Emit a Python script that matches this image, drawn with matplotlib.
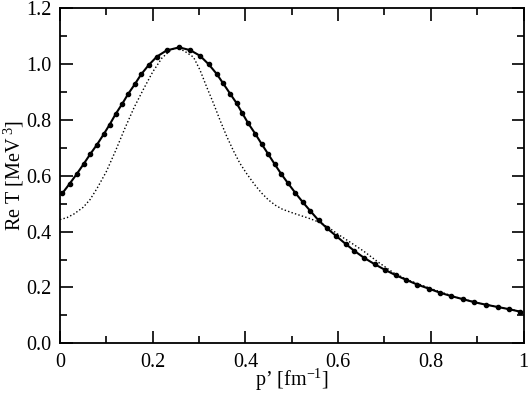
import matplotlib
matplotlib.use("Agg")
import matplotlib.pyplot as plt
from matplotlib.ticker import MultipleLocator, FixedLocator

plt.rcParams['font.family'] = 'Liberation Serif'
plt.rcParams['mathtext.fontset'] = 'custom'
plt.rcParams['mathtext.rm'] = 'Liberation Serif'
plt.rcParams['mathtext.it'] = 'Liberation Serif:italic'

# solid curve with dots
p_solid = [0.005, 0.021, 0.036, 0.051, 0.065, 0.080, 0.094, 0.107, 0.120, 0.134,
           0.147, 0.161, 0.175, 0.191, 0.209, 0.230, 0.257, 0.281, 0.302, 0.321,
           0.338, 0.352, 0.367, 0.381, 0.393, 0.406, 0.421, 0.435, 0.449, 0.463,
           0.477, 0.492, 0.508, 0.524, 0.540, 0.558, 0.576, 0.596, 0.616, 0.635,
           0.656, 0.679, 0.701, 0.724, 0.747, 0.771, 0.795, 0.820, 0.844, 0.869,
           0.894, 0.919, 0.944, 0.969, 0.993]
t_solid = [0.537, 0.572, 0.606, 0.642, 0.677, 0.712, 0.748, 0.783, 0.821, 0.857,
           0.893, 0.927, 0.963, 0.996, 1.027, 1.049, 1.060, 1.050, 1.030, 0.999,
           0.965, 0.931, 0.894, 0.860, 0.825, 0.788, 0.751, 0.714, 0.678, 0.642,
           0.607, 0.573, 0.538, 0.505, 0.474, 0.440, 0.412, 0.384, 0.356, 0.331,
           0.306, 0.283, 0.263, 0.244, 0.227, 0.210, 0.196, 0.181, 0.169, 0.158,
           0.147, 0.138, 0.130, 0.122, 0.113]

# dotted curve
p_dot = [0.0, 0.015, 0.03, 0.05, 0.065, 0.08, 0.10, 0.12, 0.14, 0.16, 0.18, 0.20,
         0.22, 0.24, 0.255, 0.27, 0.288, 0.302, 0.316, 0.331, 0.345, 0.36, 0.374,
         0.388, 0.403, 0.42, 0.435, 0.45, 0.465, 0.48, 0.50, 0.52, 0.54, 0.56,
         0.58, 0.60, 0.626, 0.655, 0.687, 0.72, 0.75, 0.80, 0.85, 0.90, 0.95, 1.0]
t_dot = [0.443, 0.450, 0.463, 0.487, 0.515, 0.555, 0.615, 0.690, 0.770, 0.845,
         0.910, 0.972, 1.022, 1.052, 1.058, 1.045, 1.025, 0.979, 0.920, 0.860,
         0.800, 0.740, 0.690, 0.645, 0.607, 0.568, 0.538, 0.513, 0.494, 0.480,
         0.468, 0.457, 0.446, 0.433, 0.414, 0.390, 0.362, 0.330, 0.290, 0.252,
         0.227, 0.196, 0.167, 0.145, 0.128, 0.112]

xticks = [0, 0.2, 0.4, 0.6, 0.8, 1.0]
xticklabels = ['0', '0.2', '0.4', '0.6', '0.8', '1']
yticks = [0.0, 0.2, 0.4, 0.6, 0.8, 1.0, 1.2]
yticklabels = ['0.0', '0.2', '0.4', '0.6', '0.8', '1.0', '1.2']

fig = plt.figure(figsize=(5.28, 3.95), dpi=100)
ax = fig.add_axes([0.1136, 0.131, 0.878, 0.848])

ax.plot(p_dot, t_dot, color='black', lw=1.0, linestyle=(0, (1, 1.6)))
ax.plot(p_solid, t_solid, color='black', lw=1.5, marker='o', markersize=3.0)

ax.set_xlim(0, 1)
ax.set_ylim(0, 1.2)
ax.xaxis.set_major_locator(FixedLocator(xticks))
ax.set_xticklabels(xticklabels)
ax.yaxis.set_major_locator(FixedLocator(yticks))
ax.set_yticklabels(yticklabels)
ax.xaxis.set_minor_locator(MultipleLocator(0.1))
ax.yaxis.set_minor_locator(MultipleLocator(0.1))
ax.tick_params(which='both', direction='in', top=True, right=True, width=1.2,
               labelsize=14.5)
ax.tick_params(axis='x', pad=7)
ax.tick_params(axis='y', pad=6)
ax.tick_params(which='major', length=9)
ax.tick_params(which='minor', length=5)
for s in ax.spines.values():
    s.set_linewidth(1.3)

ax.set_xlabel("p’ [fm$^{-1}$]", fontsize=14.5)
ax.set_ylabel("Re T [MeV$^{\\ 3}$]", fontsize=14.5)
ax.xaxis.set_label_coords(0.5, -0.07)
ax.yaxis.set_label_coords(-0.074, 0.5)

fig.savefig("out.png", dpi=100)
